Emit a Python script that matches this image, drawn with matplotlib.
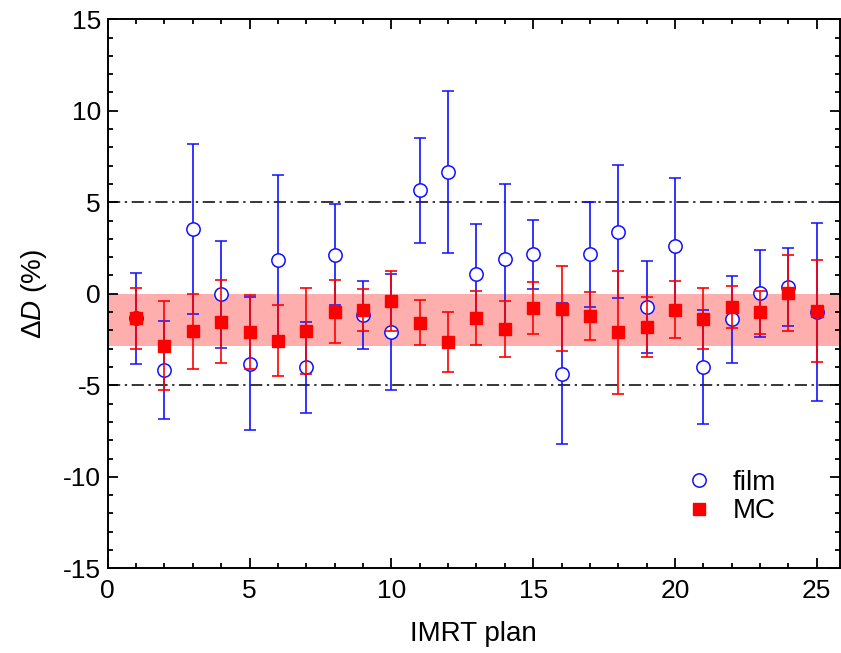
import matplotlib
matplotlib.use("Agg")
import matplotlib.pyplot as plt
from matplotlib.ticker import MultipleLocator
from matplotlib.lines import Line2D

plt.rcParams['font.family'] = ['Liberation Sans', 'DejaVu Sans']
plt.rcParams['mathtext.fontset'] = 'custom'
plt.rcParams['mathtext.it'] = 'Liberation Sans:italic'
plt.rcParams['mathtext.rm'] = 'Liberation Sans'
plt.rcParams['axes.unicode_minus'] = False

plans = list(range(1, 26))
film = [-1.34, -4.16, 3.54, -0.03, -3.81, 1.86, -4.02, 2.14, -1.14, -2.09,
        5.67, 6.67, 1.06, 1.88, 2.15, -4.36, 2.17, 3.39, -0.74, 2.63,
        -4.02, -1.40, 0.03, 0.39, -0.98]
film_err = [2.49, 2.66, 4.66, 2.93, 3.65, 4.63, 2.50, 2.77, 1.86, 3.15,
            2.87, 4.42, 2.73, 4.12, 1.88, 3.87, 2.87, 3.63, 2.52, 3.72,
            3.11, 2.36, 2.38, 2.13, 4.86]
mc = [-1.34, -2.83, -2.06, -1.52, -2.07, -2.56, -2.01, -0.97, -0.87, -0.39,
      -1.58, -2.62, -1.33, -1.92, -0.79, -0.81, -1.20, -2.11, -1.80, -0.86,
      -1.36, -0.72, -1.02, 0.03, -0.94]
mc_err = [1.65, 2.43, 2.03, 2.26, 2.02, 1.95, 2.35, 1.71, 1.15, 1.62,
          1.23, 1.65, 1.47, 1.55, 1.43, 2.33, 1.30, 3.38, 1.65, 1.58,
          1.66, 1.13, 1.20, 2.09, 2.81]
band = (-2.85, 0.0)
limits = [5, -5]

BLUE = '#1010ff'
RED = '#ff0000'

fig = plt.figure(figsize=(8.41, 6.53), dpi=100)
ax = fig.add_axes([107.7/841, 1 - 568.3/653, (839.5-107.7)/841, (568.3-19.3)/653])

ax.axhspan(band[0], band[1], color='#ffaaaa', alpha=0.95, lw=0, zorder=0)
for lv in limits:
    ax.axhline(lv, color='black', lw=1.1, ls=(0, (8, 3, 1.5, 3)), zorder=1)

ax.errorbar(plans, film, yerr=film_err, fmt='o', color=BLUE, mfc='white',
            mec=BLUE, ms=9.6, mew=1.1, elinewidth=1.2, capsize=4.2, capthick=1.2,
            zorder=2)
ax.errorbar(plans, mc, yerr=mc_err, fmt='s', color=RED, mfc=RED,
            mec=RED, ms=8.5, elinewidth=1.2, capsize=4.2, capthick=1.2,
            zorder=3)

ax.set_xlim(0, 25.8)
ax.set_ylim(-15, 15)
ax.xaxis.set_major_locator(MultipleLocator(5))
ax.xaxis.set_minor_locator(MultipleLocator(1))
ax.yaxis.set_major_locator(MultipleLocator(5))
ax.yaxis.set_minor_locator(MultipleLocator(1))
ax.tick_params(which='both', direction='in', top=True, right=True, labelsize=19, width=1.3)
ax.tick_params(which='major', length=7, pad=5)
ax.tick_params(axis='x', which='major', pad=8)
ax.tick_params(which='minor', length=3.5)
for s in ax.spines.values():
    s.set_linewidth(1.4)

ax.set_xlabel('IMRT plan', fontsize=20, labelpad=13)
ax.set_ylabel(r'$\Delta\mathit{D}$ (%)', fontsize=20, labelpad=10)

handles = [Line2D([], [], ls='none', marker='o', ms=9.6, mfc='white', mec=BLUE, mew=1.1),
           Line2D([], [], ls='none', marker='s', ms=8.5, mfc=RED, mec=RED)]
ax.legend(handles, ['film', 'MC'], loc='center left', bbox_to_anchor=(0.755, 0.13),
          frameon=False, fontsize=20, handlelength=1.0, handletextpad=0.7,
          labelspacing=0.1, borderpad=0.4)

fig.savefig('out.png', dpi=100)
